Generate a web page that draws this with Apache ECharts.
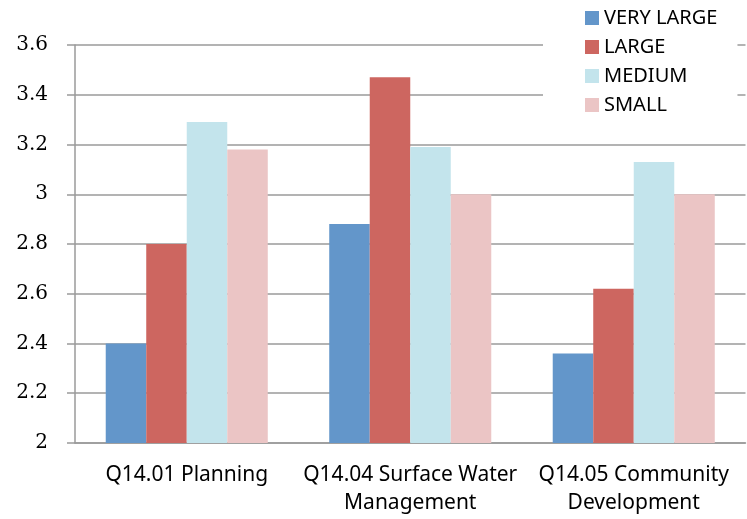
<!DOCTYPE html>
<html>
<head>
<meta charset="utf-8">
<script src="https://cdn.jsdelivr.net/npm/echarts@6/dist/echarts.min.js"></script>
<style>
  html, body { margin: 0; padding: 0; background: #fff; }
  #container { width: 747px; height: 519px; }
</style>
</head>
<body>
<div id="container"></div>
<script>
let chart = echarts.init(document.getElementById('container'));

var categories = ['Q14.01 Planning', 'Q14.04 Surface Water\nManagement', 'Q14.05 Community\nDevelopment'];
var seriesNames = ['VERY LARGE', 'LARGE', 'MEDIUM', 'SMALL'];
var veryLarge = [2.40, 2.88, 2.36];
var large = [2.80, 3.47, 2.62];
var medium = [3.29, 3.19, 3.13];
var small = [3.18, 3.00, 3.00];
var colors = ['#6396CA', '#CD6660', '#C3E4EC', '#EBC5C5'];

var values = [veryLarge, large, medium, small];

let option = {
    animation: false,
    color: colors,
    legend: {
        orient: 'vertical',
        left: 543,
        top: 2,
        padding: [6, 20, 8, 42],
        backgroundColor: '#fff',
        itemWidth: 14,
        itemHeight: 14,
        itemGap: 9,
        icon: 'rect',
        textStyle: {
            fontFamily: 'Noto Sans',
            fontSize: 20,
            lineHeight: 20,
            color: '#000',
        },
        data: seriesNames,
    },
    grid: {
        left: 75,
        right: 1.5,
        top: 45,
        bottom: 76,
    },
    xAxis: {
        type: 'category',
        data: categories,
        axisLine: { lineStyle: { color: '#9a9a9a', width: 1.5 } },
        axisTick: { length: 9, lineStyle: { color: '#9a9a9a', width: 1.5 } },
        axisLabel: {
            interval: 0,
            margin: 18,
            fontFamily: 'Noto Sans',
            fontSize: 21,
            lineHeight: 28,
            color: '#000',
        },
    },
    yAxis: {
        type: 'value',
        min: 2,
        max: 3.6,
        interval: 0.2,
        axisLine: { show: true, lineStyle: { color: '#9a9a9a', width: 1.5 } },
        axisTick: { show: true, length: 8, lineStyle: { color: '#9a9a9a', width: 1.5 } },
        splitLine: { lineStyle: { color: '#9a9a9a', width: 1.5 } },
        axisLabel: {
            margin: 27,
            fontFamily: 'DejaVu Serif',
            fontSize: 20,
            color: '#000',
            formatter: function (v) {
                return parseFloat(v.toFixed(1)).toString();
            },
        },
    },
    series: seriesNames.map((name, i) => ({
        name: name,
        type: 'bar',
        barGap: '0%',
        barCategoryGap: '27.5%',
        data: values[i],
    })),
};

chart.setOption(option);
</script>
</body>
</html>
